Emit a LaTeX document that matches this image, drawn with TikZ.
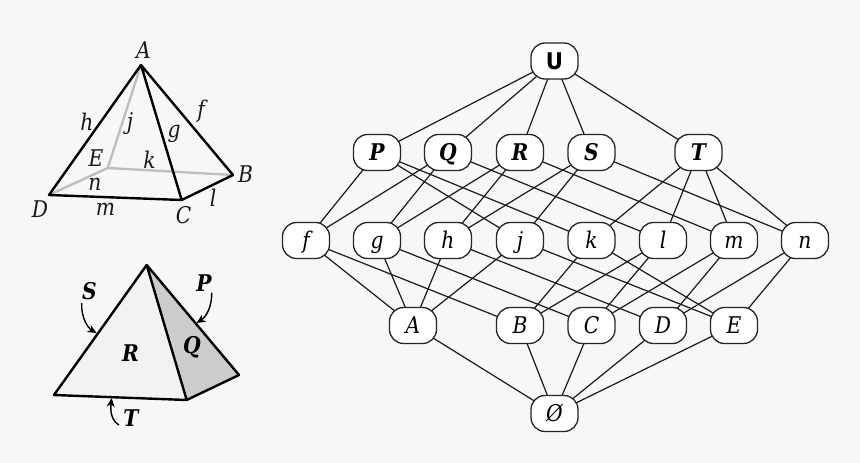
\documentclass[tikz,border=0pt]{standalone}
\usepackage{fontspec}
\setmainfont{DejaVu Serif}[FakeStretch=0.88]
\newfontfamily\ufont{DejaVu Sans}[FakeStretch=0.92]
\pgfdeclarelayer{backdrop}
\pgfdeclarelayer{links}
\pgfsetlayers{backdrop,links,main}
\usetikzlibrary{arrows.meta}
\definecolor{bgc}{HTML}{F7F7F7}
\definecolor{edgec}{HTML}{1A1A1A}
\tikzset{
  lat/.style={draw=black!85,line width=1.3pt,fill=white,rounded corners=14pt,minimum width=47pt,minimum height=36pt,inner sep=0pt,text height=16pt,text depth=0pt,font=\fontsize{23}{25}\selectfont\itshape},
  latb/.style={lat,font=\fontsize{23}{25}\selectfont\bfseries\itshape},
  link/.style={draw=edgec,line width=1.2pt},
  lbl/.style={inner sep=0pt,font=\fontsize{23}{25}\selectfont\itshape,text=black!90},
  lblb/.style={inner sep=0pt,font=\fontsize{23}{25}\selectfont\bfseries\itshape},
  solidedge/.style={draw=black,line width=2.4pt,line join=round,line cap=round},
  hiddenedge/.style={draw=black!25,line width=2.4pt,line cap=round},
  pointer/.style={draw=black,line width=1.4pt,-{Stealth[length=9pt,width=8pt]}}
}
\begin{document}
\begin{tikzpicture}[x=1pt,y=-1pt]
\useasboundingbox (0,0) rectangle (860,463);
\begin{pgfonlayer}{backdrop}
\fill[bgc] (0,0) rectangle (860,463);
\end{pgfonlayer}
% top pyramid
\coordinate (a1) at (141,65);
\coordinate (b1) at (233,175);
\coordinate (c1) at (181.7,200);
\coordinate (d1) at (49,195);
\coordinate (e1) at (107.7,168);
\draw[hiddenedge] (a1) -- (e1) (d1) -- (e1) -- (b1);
\draw[solidedge] (a1) -- (d1) -- (c1) -- (b1) -- cycle (a1) -- (c1);
\node[lbl] at (143.5,50) {A};
\node[lbl] at (87,122) {h};
\node[lbl] at (130,124) {j};
\node[lbl] at (174,134) {g};
\node[lbl] at (201,111) {f};
\node[lbl] at (96,158) {E};
\node[lbl] at (149.5,160) {k};
\node[lbl] at (245.5,174) {B};
\node[lbl] at (95,184) {n};
\node[lbl] at (213,198) {l};
\node[lbl] at (105.5,209) {m};
\node[lbl] at (40,209) {D};
\node[lbl] at (183.5,215) {C};
% bottom pyramid
\coordinate (a2) at (146.7,265);
\coordinate (b2) at (239,375);
\coordinate (c2) at (186.7,400);
\coordinate (d2) at (54,395);
\fill[black!20] (a2) -- (c2) -- (b2) -- cycle;
\fill[black!5] (a2) -- (d2) -- (c2) -- cycle;
\draw[solidedge] (a2) -- (d2) -- (c2) -- (b2) -- cycle (a2) -- (c2);
\node[lblb] at (89.5,291) {S};
\node[lblb] at (204,283) {P};
\node[lblb] at (130.5,353) {R};
\node[lblb] at (192,347) {Q};
\node[lblb] at (131,418) {T};
\coordinate (s1) at (81.7,303); \coordinate (s2) at (96.5,333);
\coordinate (p1) at (211.7,292.7); \coordinate (p2) at (196.5,323);
\coordinate (t1) at (119,425); \coordinate (t2) at (111.7,398);
\draw[pointer] (s1) .. controls (81,318) and (88,328) .. (s2);
\draw[pointer] (p1) .. controls (212,307) and (206,317) .. (p2);
\draw[pointer] (t1) .. controls (112,421) and (110,412) .. (t2);
% lattice
\node[lat,font=\ufont\fontsize{23}{25}\selectfont\bfseries] (U) at (554.5,61) {U};
\node[latb] (P) at (377,152.5) {P};
\node[latb] (Q) at (448,152.5) {Q};
\node[latb] (R) at (520,152.5) {R};
\node[latb] (S) at (591.5,152.5) {S};
\node[latb] (T) at (698.5,152.5) {T};
\node[lat] (f) at (306,240.5) {f};
\node[lat] (g) at (377,240.5) {g};
\node[lat] (h) at (448,240.5) {h};
\node[lat] (j) at (520,240.5) {j};
\node[lat] (k) at (591.5,240.5) {k};
\node[lat] (l) at (663,240.5) {l};
\node[lat] (m) at (734,240.5) {m};
\node[lat] (n) at (805,240.5) {n};
\node[lat] (A) at (413,325.5) {A};
\node[lat] (B) at (520,325.5) {B};
\node[lat] (C) at (591.5,325.5) {C};
\node[lat] (D) at (663,325.5) {D};
\node[lat] (E) at (734,325.5) {E};
\node[lat] (O) at (554.5,413.5) {Ø};
\begin{pgfonlayer}{links}
\foreach \p/\q in {U/P,U/Q,U/R,U/S,U/T,
  P/f,P/j,P/k,Q/f,Q/g,Q/l,R/g,R/h,R/m,S/h,S/j,S/n,T/k,T/l,T/m,T/n,
  f/A,f/B,g/A,g/C,h/A,h/D,j/A,j/E,k/B,k/E,l/B,l/C,m/C,m/D,n/D,n/E,
  A/O,B/O,C/O,D/O,E/O}
  \draw[link] (\p.center) -- (\q.center);
\end{pgfonlayer}
\end{tikzpicture}
\end{document}
